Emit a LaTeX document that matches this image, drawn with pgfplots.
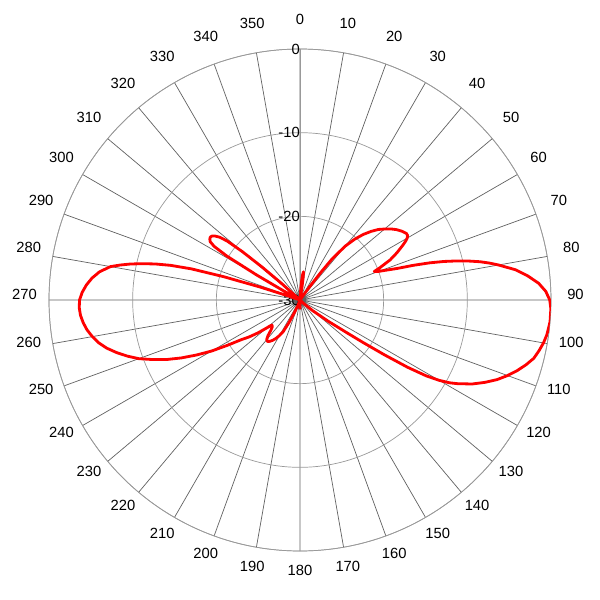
\documentclass[border=0pt]{standalone}
\usepackage{pgfplots}
\pgfplotsset{compat=1.18}
\usepgfplotslibrary{polar}
\usepackage{fontspec}
\setmainfont{Liberation Sans}
\pgfplotstableread{
ang db
0 -30
2 -29.6
4 -28.4
5 -27.6
6 -26.9
7 -26.6
8 -27.2
9 -28.5
10 -29.6
12 -30
34 -30
35 -29.3
36 -28
37 -26
38 -23.8
40 -21.6
42 -20.2
44 -19.1
46 -18.2
48 -17.4
50 -16.8
52 -16.2
54 -15.7
56 -15.3
58 -15.0
59 -15.0
60 -15.2
61 -15.6
62 -16.1
64 -17.1
66 -18.2
68 -19.7
69 -20.5
70 -20.0
71 -19.0
72 -17.8
73 -15.8
74 -13.9
75 -12.2
76 -10.7
77 -9.3
78 -8.0
79 -6.9
80 -5.9
82 -4.0
84 -2.6
86 -1.4
88 -0.6
90 -0.15
92 0
95 0
98 -0.2
100 -0.45
102 -0.8
104 -1.2
106 -1.9
108 -2.7
110 -3.6
112 -4.6
114 -5.8
116 -7.1
118 -8.7
119 -9.6
120 -10.8
121 -12.4
122 -14.8
123 -18
124 -21
125 -23.3
127 -25.8
130 -28
134 -29.5
138 -30
176 -30
180 -29
184 -30
198 -30
201 -29.3
204 -28.3
206 -27.0
208 -25.7
210 -25.1
212 -24.6
214 -24.2
216 -23.9
218 -23.7
220 -23.8
222 -24.3
224 -25.0
226 -25.4
228 -25.5
229 -25.3
230 -24.8
232 -23.6
234 -22.5
236 -21.5
238 -19.8
240 -17.8
242 -16.0
244 -14.2
246 -12.5
248 -11.0
250 -9.5
252 -8.3
254 -7.2
256 -6.2
258 -5.4
260 -4.8
262 -4.3
264 -3.95
266 -3.7
268 -3.6
270 -3.65
272 -3.95
274 -4.4
276 -5.0
278 -5.8
280 -7.0
281 -8.1
282 -9.3
283 -10.7
284 -12.2
285 -14.0
286 -16.5
287 -20.5
288 -25
289 -28.5
290 -30
298 -30
299 -28
300 -24
301 -19.8
302 -17.9
303 -17.2
304 -17.0
305 -16.9
306 -17.0
307 -17.3
308 -17.8
309 -18.8
310 -21
311 -24
312 -27
314 -30
360 -30
}\pattern
\begin{document}
\begin{tikzpicture}
\path[use as bounding box] (-7.5cm,-7.5cm) rectangle (7.5cm,7.5cm);
\begin{polaraxis}[
  at={(0,0)}, anchor=center,
  scale only axis, width=12.55cm, height=12.55cm,
  xmin=90, xmax=450, ymin=0, ymax=30,
  xtick={90,100,...,440},
  xticklabels={0,350,340,330,320,310,300,290,280,270,260,250,240,230,220,210,200,190,180,170,160,150,140,130,120,110,100,90,80,70,60,50,40,30,20,10},
  ytick={0,10,20,30}, yticklabels={-30,-20,-10,0},
  xmajorgrids, ymajorgrids,
  x grid style={black!62, line width=0.5pt},
  y grid style={black!40, line width=0.5pt},
  axis line style={black!40, line width=0.5pt},
  major tick length=0pt,
  xticklabel style={anchor=center, inner sep=0pt, shift={(\tick:0.6125cm)}, yshift=0.13cm},
  yticklabel style={xshift=0.12cm},
  x filter/.expression={450-x},
  y filter/.expression={y+30},
  font=\fontsize{10.5}{12.6}\selectfont,
]
\addplot[red, line width=2pt, no marks, line join=round] table[x=ang, y=db] {\pattern};
\end{polaraxis}
\end{tikzpicture}
\end{document}
